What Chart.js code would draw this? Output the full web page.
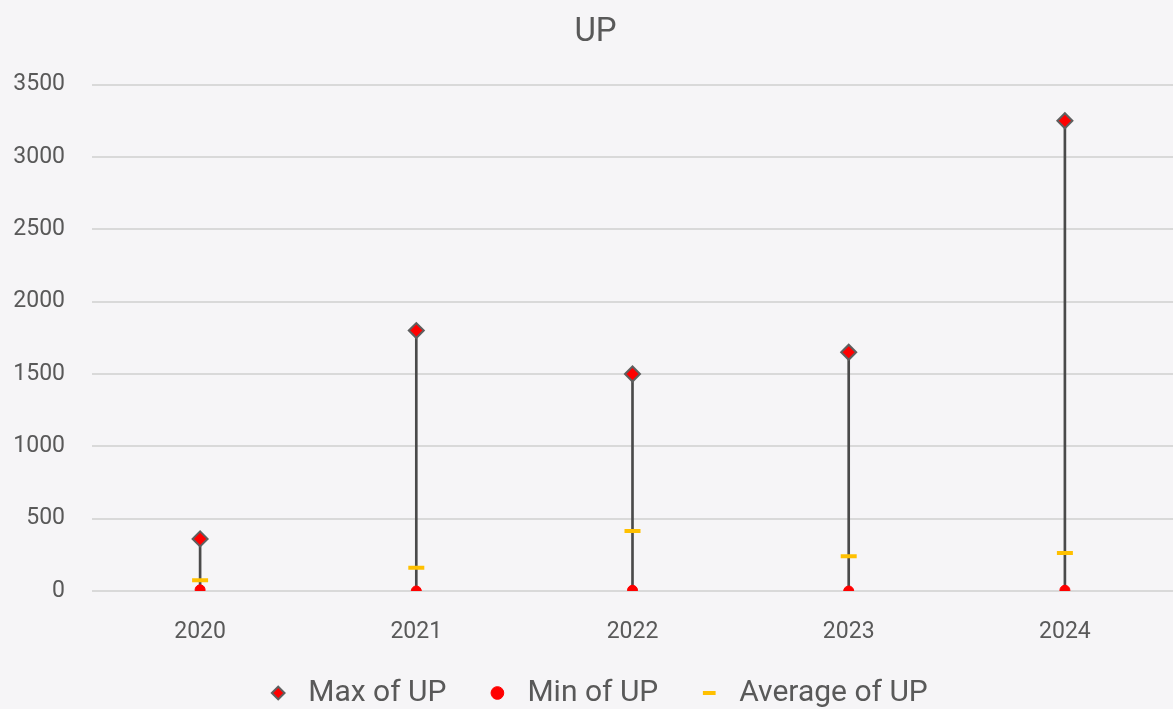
<!DOCTYPE html>
<html>
<head>
<meta charset="utf-8">
<script src="https://cdn.jsdelivr.net/npm/chart.js@4"></script>
<style>
  html, body { margin: 0; padding: 0; background: #f6f5f7; overflow: hidden; }
  #wrap { width: 1173px; height: 709px; position: relative; }
  canvas { display: block; }
</style>
</head>
<body>
<div id="wrap"><canvas id="chart"></canvas></div>
<script>
var years = ['2020', '2021', '2022', '2023', '2024'];
var maxUP = [360, 1800, 1500, 1650, 3250];
var minUP = [8, 0, 5, 0, 5];
var avgUP = [75, 160, 415, 240, 262];

var textColor = '#595959';
var fontFamily = 'Roboto, "Open Sans", sans-serif';

// high-low stems as floating bars
var ranges = [];
years.forEach(function(y, i) {
    ranges.push([minUP[i], maxUP[i]]);
});

var ctx = document.getElementById('chart');
var chart = new Chart(ctx, {
    type: 'bar',
    data: {
        labels: years,
        datasets: [{
            type: 'line',
            label: 'Max of UP',
            data: maxUP,
            showLine: false,
            pointStyle: 'rectRot',
            pointRadius: 7.5,
            pointBackgroundColor: '#ff0000',
            pointBorderColor: '#5f5f5f',
            pointBorderWidth: 2,
            backgroundColor: '#ff0000',
            borderColor: '#5f5f5f',
            borderWidth: 2,
            order: 1,
        }, {
            type: 'line',
            label: 'Min of UP',
            data: minUP,
            showLine: false,
            pointStyle: 'circle',
            pointRadius: 5,
            pointBackgroundColor: '#ff0000',
            pointBorderColor: '#ff0000',
            pointBorderWidth: 1,
            backgroundColor: '#ff0000',
            borderColor: '#ff0000',
            borderWidth: 1,
            order: 2,
        }, {
            type: 'line',
            label: 'Average of UP',
            data: avgUP,
            showLine: false,
            pointStyle: 'line',
            pointRadius: 8,
            pointBorderColor: '#ffc000',
            pointBorderWidth: 4,
            backgroundColor: '#ffc000',
            borderColor: '#ffc000',
            borderWidth: 4,
            order: 3,
        }, {
            type: 'bar',
            label: 'range',
            data: ranges,
            backgroundColor: '#4a4a4a',
            barThickness: 2,
            order: 10,
        }],
    },
    options: {
        responsive: true,
        maintainAspectRatio: false,
        animation: false,
        layout: {
            autoPadding: false,
            padding: {left: 12, right: -6, top: 0, bottom: -9},
        },
        plugins: {
            title: {
                display: true,
                text: 'UP',
                color: textColor,
                font: {family: fontFamily, size: 33, weight: 'normal'},
                padding: {top: 13, bottom: 32},
            },
            legend: {
                position: 'bottom',
                labels: {
                    usePointStyle: true,
                    color: textColor,
                    font: {family: fontFamily, size: 30},
                    boxHeight: 9,
                    padding: 36,
                    filter: function(item) {
                        return item.datasetIndex !== 3;
                    },
                },
            },
            tooltip: {enabled: false},
        },
        scales: {
            x: {
                offset: true,
                grid: {display: false},
                border: {display: false},
                ticks: {
                    color: textColor,
                    font: {family: fontFamily, size: 23},
                    padding: 19,
                },
                afterFit: function(scale) {
                    scale.height = 51;
                },
            },
            y: {
                min: 0,
                max: 3500,
                ticks: {
                    stepSize: 500,
                    color: textColor,
                    font: {family: fontFamily, size: 23},
                    padding: 27,
                    callback: function(v) { return String(v); },
                },
                grid: {color: '#d9d9d9', lineWidth: 2, drawTicks: false},
                border: {display: false},
                afterFit: function(scale) {
                    scale.width = 80;
                },
            },
        },
    },
});
</script>
</body>
</html>
